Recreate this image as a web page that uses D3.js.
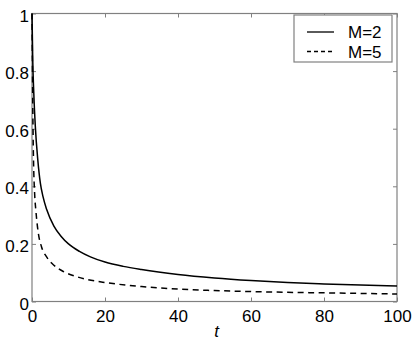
<!DOCTYPE html>
<html>
<head>
<meta charset="utf-8">
<script src="https://cdn.jsdelivr.net/npm/d3@7"></script>
<style>
  body { margin: 0; background: #fff; }
  text { font-family: "Liberation Sans", Arial, sans-serif; }
</style>
</head>
<body>
<div id="chart"></div>
<script>
// values
var tM2 = [0, 0.2, 0.5, 0.9, 1.6, 2.3, 3, 4, 6, 8, 10, 13, 16, 20, 25, 30, 40, 50, 60, 70, 80, 90, 100];
var yM2 = [1, 0.84, 0.72, 0.61, 0.49, 0.41, 0.365, 0.32, 0.262, 0.226, 0.2, 0.174, 0.155, 0.137, 0.122, 0.111, 0.094, 0.082, 0.073, 0.066, 0.061, 0.057, 0.054];

var tM5 = [0, 0.1, 0.18, 0.3, 0.45, 0.7, 1.1, 1.7, 2.6, 4, 5.5, 7, 8.6, 12, 15, 20, 30, 40, 50, 60, 70, 80, 90, 100];
var yM5 = [1, 0.85, 0.72, 0.58, 0.47, 0.38, 0.31, 0.24, 0.19, 0.155, 0.132, 0.116, 0.104, 0.087, 0.077, 0.066, 0.052, 0.043, 0.038, 0.0345, 0.032, 0.03, 0.028, 0.026];

var xTicks = [0, 20, 40, 60, 80, 100];
var yTicks = [0, 0.2, 0.4, 0.6, 0.8, 1];
var seriesNames = ["M=2", "M=5"];

var W = 415, H = 341;
var margin = {top: 13.5, right: 18, bottom: 39.5, left: 32};
var width = W - margin.left - margin.right,
    height = H - margin.top - margin.bottom;

var svg = d3.select("#chart").append("svg")
    .attr("width", W)
    .attr("height", H)
  .append("g")
    .attr("transform", "translate(" + margin.left + "," + margin.top + ")");

var x = d3.scaleLinear().domain([0, 100]).range([0, width]);
var y = d3.scaleLinear().domain([0, 1]).range([height, 0]);

var axisColor = "#808080";

// axes, matlab style: ticks inside, box all round
function styleAxis(g) {
  g.select(".domain").remove();
  g.selectAll(".tick line").attr("stroke", axisColor);
  g.selectAll(".tick text").attr("fill", "#000").style("font-size", "17px");
}

svg.append("g")
    .attr("transform", "translate(0," + height + ")")
    .call(d3.axisBottom(x).tickValues(xTicks).tickSize(-4).tickFormat(d3.format("d")))
    .call(styleAxis)
    .selectAll(".tick text").attr("dy", "0.71em").attr("y", 8.5);

svg.append("g")
    .call(d3.axisTop(x).tickValues(xTicks).tickSize(-4).tickFormat(""))
    .call(styleAxis);

svg.append("g")
    .call(d3.axisLeft(y).tickValues(yTicks).tickSize(-4).tickFormat(function(d) { return d3.format("~g")(d); }))
    .call(styleAxis)
    .selectAll(".tick text").attr("x", -3).attr("dy", "0.45em");

svg.append("g")
    .attr("transform", "translate(" + width + ",0)")
    .call(d3.axisRight(y).tickValues(yTicks).tickSize(-4).tickFormat(""))
    .call(styleAxis);

svg.append("rect")
    .attr("width", width)
    .attr("height", height)
    .attr("fill", "none")
    .attr("stroke", axisColor)
    .attr("stroke-width", 1.2);

// curves
var line = d3.line()
    .x(function(d) { return x(d[0]); })
    .y(function(d) { return y(d[1]); })
    .curve(d3.curveMonotoneX);

var dataM2 = d3.zip(tM2, yM2);
var dataM5 = d3.zip(tM5, yM5);

svg.append("path")
    .datum(dataM2)
    .attr("d", line)
    .attr("fill", "none")
    .attr("stroke", "#000")
    .attr("stroke-width", 1.5);

svg.append("path")
    .datum(dataM5)
    .attr("d", line)
    .attr("fill", "none")
    .attr("stroke", "#000")
    .attr("stroke-width", 1.5)
    .attr("stroke-dasharray", "6,4.5");

// x label
svg.append("text")
    .attr("x", width / 2 + 2)
    .attr("y", height + 35)
    .attr("text-anchor", "middle")
    .style("font-size", "17px")
    .style("font-style", "italic")
    .text("t");

// legend
var legend = svg.append("g")
    .attr("transform", "translate(" + (width - 103) + ",1.5)");

legend.append("rect")
    .attr("width", 98)
    .attr("height", 47)
    .attr("fill", "#fff")
    .attr("stroke", axisColor)
    .attr("stroke-width", 1.2);

var rows = legend.selectAll(".row")
    .data(seriesNames)
    .enter().append("g")
    .attr("class", "row")
    .attr("transform", function(d, i) { return "translate(0," + (17 + i * 19.5) + ")"; });

rows.append("line")
    .attr("x1", 13)
    .attr("x2", 40)
    .attr("stroke", "#000")
    .attr("stroke-width", 1.3)
    .attr("stroke-dasharray", function(d, i) { return i == 1 ? "4,3" : null; });

rows.append("text")
    .attr("x", 54)
    .attr("dy", "0.36em")
    .style("font-size", "17px")
    .text(function(d) { return d; });
</script>
</body>
</html>
